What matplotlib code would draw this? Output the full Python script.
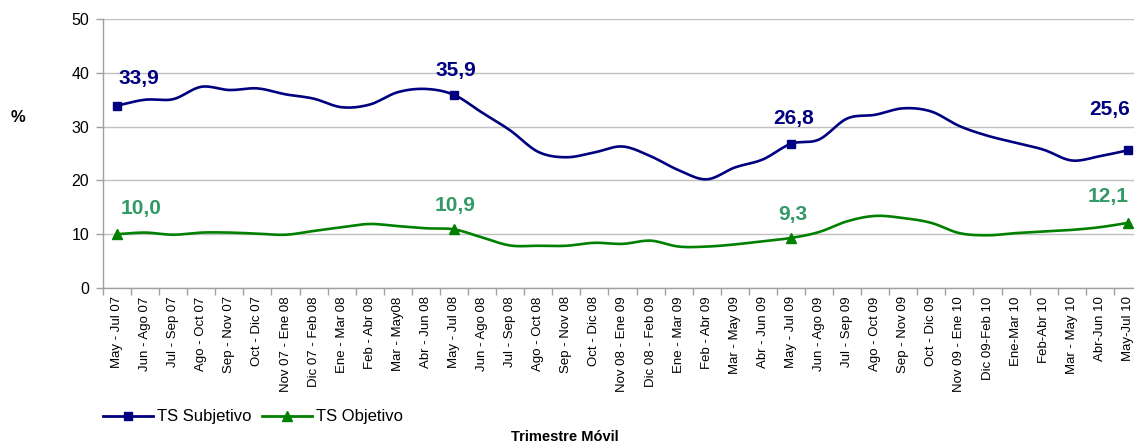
import numpy as np
import matplotlib
matplotlib.use("Agg")
import matplotlib.pyplot as plt
from matplotlib.lines import Line2D

categories = ["May - Jul 07", "Jun - Ago 07", "Jul - Sep 07", "Ago - Oct 07", "Sep - Nov 07",
              "Oct - Dic 07", "Nov 07 - Ene 08", "Dic 07 - Feb 08", "Ene - Mar 08", "Feb - Abr 08",
              "Mar - May08", "Abr - Jun 08", "May - Jul 08", "Jun - Ago 08", "Jul - Sep 08",
              "Ago - Oct 08", "Sep - Nov 08", "Oct - Dic 08", "Nov 08 - Ene 09", "Dic 08 - Feb 09",
              "Ene - Mar 09", "Feb - Abr 09", "Mar - May 09", "Abr - Jun 09", "May - Jul 09",
              "Jun - Ago 09", "Jul - Sep 09", "Ago - Oct 09", "Sep - Nov 09", "Oct - Dic 09",
              "Nov 09 - Ene 10", "Dic 09-Feb 10", "Ene-Mar 10", "Feb-Abr 10", "Mar - May 10",
              "Abr-Jun 10", "May-Jul 10"]

ts_subjetivo = [33.9, 35.0, 35.1, 37.4, 36.8, 37.1, 36.0, 35.2, 33.6, 34.1,
                36.4, 37.0, 35.9, 32.6, 29.3, 25.3, 24.3, 25.2, 26.3, 24.5,
                21.9, 20.2, 22.4, 23.9, 26.8, 27.6, 31.5, 32.2, 33.4, 32.8,
                30.1, 28.3, 27.0, 25.7, 23.7, 24.5, 25.6]

ts_objetivo = [10.0, 10.3, 9.9, 10.3, 10.3, 10.1, 9.9, 10.6, 11.3, 11.9,
               11.5, 11.1, 10.9, 9.4, 7.9, 7.85, 7.85, 8.4, 8.2, 8.8,
               7.7, 7.7, 8.1, 8.7, 9.3, 10.4, 12.4, 13.4, 13.0, 12.1,
               10.2, 9.8, 10.2, 10.5, 10.8, 11.3, 12.1]

labeled_idx = [0, 12, 24, 36]
yticks = [0, 10, 20, 30, 40, 50]

BLUE = "#000080"
GREEN = "#008000"
GREEN_LBL = "#339966"
GRID = "#c0c0c0"

plt.rcParams['font.family'] = ['Liberation Sans', 'DejaVu Sans']


def smooth(y, n=12):
    y = np.asarray(y, dtype=float)
    x = np.arange(len(y), dtype=float)
    p = np.concatenate([[2 * y[0] - y[1]], y, [2 * y[-1] - y[-2]]])
    xs, ys = [], []
    for i in range(len(y) - 1):
        p0, p1, p2, p3 = p[i], p[i + 1], p[i + 2], p[i + 3]
        t = np.linspace(0, 1, n, endpoint=False)
        v = 0.5 * ((2 * p1) + (-p0 + p2) * t + (2 * p0 - 5 * p1 + 4 * p2 - p3) * t ** 2
                   + (-p0 + 3 * p1 - 3 * p2 + p3) * t ** 3)
        xs.append(x[i] + t)
        ys.append(v)
    xs.append([x[-1]])
    ys.append([y[-1]])
    return np.concatenate(xs), np.concatenate(ys)


fig = plt.figure(figsize=(11.34, 4.43), dpi=100)
ax = fig.add_axes([103 / 1134, 1 - 288 / 443, 37 * 28.08 / 1134, (288 - 19) / 443])

n = len(categories)
x = np.arange(n)

xs, ys = smooth(ts_subjetivo)
ax.plot(xs, ys, color=BLUE, lw=1.9, zorder=3)
xs, ys = smooth(ts_objetivo)
ax.plot(xs, ys, color=GREEN, lw=1.9, zorder=3)

ax.plot(x[labeled_idx], np.array(ts_subjetivo)[labeled_idx], ls="none", marker="s",
        color=BLUE, ms=6, zorder=4)
ax.plot(x[labeled_idx], np.array(ts_objetivo)[labeled_idx], ls="none", marker="^",
        color=GREEN, ms=7, zorder=4)

sub_offsets = {0: (0.78, 5.0), 12: (0.05, 4.6), 24: (0.1, 4.7), 36: (-0.66, 7.5)}
obj_offsets = {0: (0.85, 4.8), 12: (0.05, 4.4), 24: (0.05, 4.45), 36: (-0.7, 5.0)}
for i in labeled_idx:
    dx, dy = sub_offsets[i]
    ax.text(x[i] + dx, ts_subjetivo[i] + dy, f"{ts_subjetivo[i]:.1f}".replace(".", ","),
            color=BLUE, fontsize=15, fontweight="bold", ha="center", va="center")
    dx, dy = obj_offsets[i]
    ax.text(x[i] + dx, ts_objetivo[i] + dy, f"{ts_objetivo[i]:.1f}".replace(".", ","),
            color=GREEN_LBL, fontsize=15, fontweight="bold", ha="center", va="center")

ax.set_xlim(-0.5, n - 0.5)
ax.set_ylim(0, 50)
ax.set_yticks(yticks)
ax.set_yticklabels([str(v) for v in yticks], fontsize=11.5)
ax.yaxis.grid(True, color=GRID, lw=1)
ax.set_axisbelow(True)

ax.set_xticks(x)
ax.set_xticklabels(categories, rotation=90, fontsize=9.5, va="top")
ax.set_xticks(np.arange(n + 1) - 0.5, minor=True)
ax.tick_params(axis="x", which="major", length=0, pad=6)
ax.tick_params(axis="x", which="minor", length=5, color="#a0a0a0", width=1)
ax.tick_params(axis="y", length=5, color="#a0a0a0", width=1, pad=5)

for s in ["top", "right"]:
    ax.spines[s].set_visible(False)
ax.spines["left"].set_color("#a0a0a0")
ax.spines["bottom"].set_color("#a0a0a0")
ax.spines["left"].set_linewidth(1)
ax.spines["bottom"].set_linewidth(1)

fig.text(18 / 1134, 1 - 118 / 443, "%", fontsize=12, fontweight="bold", ha="center", va="center")
fig.text(565 / 1134, 1 - 437 / 443, "Trimestre Móvil", fontsize=10.5, fontweight="bold",
         ha="center", va="center")

handles = [Line2D([], [], color=BLUE, lw=2, marker="s", ms=6),
           Line2D([], [], color=GREEN, lw=2, marker="^", ms=7)]
fig.legend(handles, ["TS Subjetivo", "TS Objetivo"], loc="center left",
           bbox_to_anchor=(88 / 1134, 1 - 417 / 443), ncol=2, frameon=False,
           fontsize=12, handlelength=3.0, handletextpad=0.25, columnspacing=0.6)

fig.savefig("out.png", dpi=100)
